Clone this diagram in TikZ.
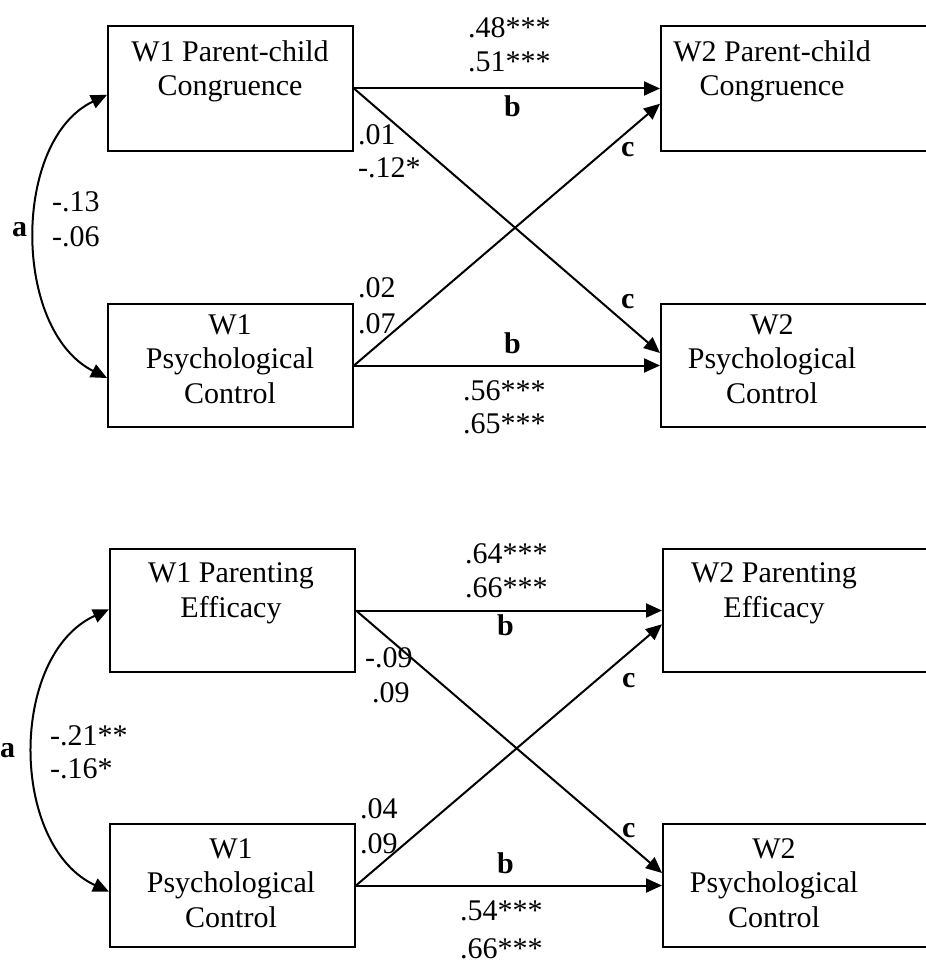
\documentclass[tikz,border=0pt]{standalone}
\usepackage{fontspec}
\setmainfont{Liberation Serif}
\usetikzlibrary{arrows.meta,calc}
\begin{document}
\begin{tikzpicture}[x=1pt,y=-1pt,
  every node/.style={font=\fontsize{30}{34.5}\selectfont},
  box/.style={draw,line width=2pt,minimum width=245pt,minimum height=123pt,anchor=north west,inner sep=0pt},
  rbox/.style={box,minimum width=300pt},
  boxtext/.style={align=center,anchor=base,inner sep=0pt},
  coef/.style={anchor=base west,inner sep=0pt},
  tag/.style={anchor=base west,inner sep=0pt,font=\fontsize{30}{34.5}\selectfont\bfseries},
  link/.style={line width=2pt,-{Triangle[length=16pt,width=14pt]}},
  corr/.style={line width=2pt,{Triangle[length=16pt,width=14pt]}-{Triangle[length=16pt,width=14pt]}}
]
\useasboundingbox (0,0) rectangle (925,965);

% ---------- upper model: congruence ----------
\node[box,minimum height=125pt] (p1a) at (107,25) {};
\node[box] (p1b) at (107,303) {};
\node[rbox,minimum height=125pt] (p1c) at (660,25) {};
\node[rbox] (p1d) at (660,303) {};

% multi-line labels are placed by the baseline of their last line
\node[boxtext] (t1a) at (230,96) {W1 Parent-child\\Congruence};
\node[boxtext] (t1b) at (230,403) {W1\\Psychological\\Control};
\node[boxtext] (t1c) at (772,96) {W2 Parent-child\\Congruence};
\node[boxtext] (t1d) at (772,403) {W2\\Psychological\\Control};

\draw[link] (p1a.east) -- (p1c.west);
\draw[link] (p1b.east) -- (p1d.west);
\draw[link] (p1a.east) -- ($(p1d.north west)!0.4!(p1d.south west)$);
\draw[link] (p1b.east) -- ($(p1c.north west)!0.62!(p1c.south west)$);
\draw[corr] ($(p1b.north west)!0.6!(p1b.south west)$) .. controls (12,330) and (12,140) .. ($(p1a.north west)!0.55!(p1a.south west)$);

\node[tag] (a1) at (12,237) {a};
\node[coef] (r1a) at (52,212) {-.13};
\node[coef] (r1b) at (52,247) {-.06};
\node[coef] (s1a) at (468,38) {.48***};
\node[coef] (s1b) at (468,72) {.51***};
\node[tag] (b1a) at (504,117) {b};
\node[coef] (x1a) at (358,145) {.01};
\node[coef] (x1b) at (358,178) {-.12*};
\node[tag] (c1a) at (621,157) {c};
\node[tag] (c1b) at (621,308) {c};
\node[coef] (x1c) at (358,298) {.02};
\node[coef] (x1d) at (358,333) {.07};
\node[tag] (b1b) at (504,353) {b};
\node[coef] (s1c) at (463,400) {.56***};
\node[coef] (s1d) at (463,433) {.65***};

% ---------- lower model: parenting efficacy ----------
\node[box] (p2a) at (109,548) {};
\node[box] (p2b) at (109,823) {};
\node[rbox] (p2c) at (662,548) {};
\node[rbox] (p2d) at (662,823) {};

\node[boxtext] (t2a) at (231,617) {W1 Parenting\\Efficacy};
\node[boxtext] (t2b) at (231,927) {W1\\Psychological\\Control};
\node[boxtext] (t2c) at (774,617) {W2 Parenting\\Efficacy};
\node[boxtext] (t2d) at (774,927) {W2\\Psychological\\Control};

\draw[link] (p2a.east) -- (p2c.west);
\draw[link] (p2b.east) -- (p2d.west);
\draw[link] (p2a.east) -- ($(p2d.north west)!0.4!(p2d.south west)$);
\draw[link] (p2b.east) -- ($(p2c.north west)!0.61!(p2c.south west)$);
\draw[corr] ($(p2b.north west)!0.55!(p2b.south west)$) .. controls (9,845) and (9,655) .. ($(p2a.north west)!0.49!(p2a.south west)$);

\node[tag] (a2) at (0,757) {a};
\node[coef] (r2a) at (50,745) {-.21**};
\node[coef] (r2b) at (50,778) {-.16*};
\node[coef] (s2a) at (465,563) {.64***};
\node[coef] (s2b) at (465,597) {.66***};
\node[tag] (b2a) at (497,635) {b};
\node[coef] (x2a) at (365,667) {-.09};
\node[coef] (x2b) at (372,702) {.09};
\node[tag] (c2a) at (622,687) {c};
\node[tag] (c2b) at (622,837) {c};
\node[coef] (x2c) at (360,818) {.04};
\node[coef] (x2d) at (360,853) {.09};
\node[tag] (b2b) at (497,873) {b};
\node[coef] (s2c) at (460,920) {.54***};
\node[coef] (s2d) at (460,958) {.66***};
\end{tikzpicture}
\end{document}
